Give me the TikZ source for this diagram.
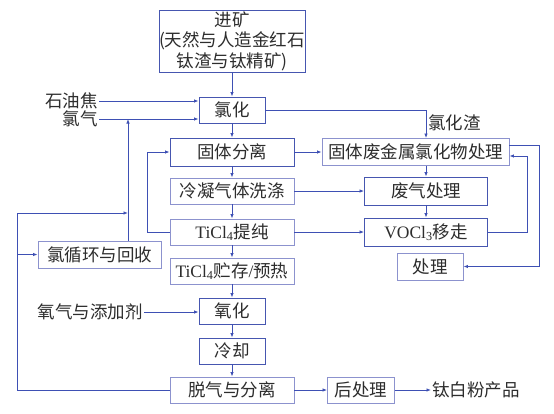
\documentclass[tikz,border=0pt]{standalone}
\usepackage{fontspec}
\setmainfont{Liberation Serif}
\newfontfamily\cjk{Noto Sans CJK SC}
\usetikzlibrary{arrows.meta}
\definecolor{lineblue}{RGB}{62,80,180}
\definecolor{boxdark}{RGB}{70,86,176}
\definecolor{boxlight}{RGB}{140,146,206}
\definecolor{txt}{RGB}{45,45,45}
\begin{document}
\begin{tikzpicture}[x=1pt, y=-1pt,
  every node/.style={font=\cjk\fontsize{17.5}{20.5}\selectfont, text=txt, inner sep=1pt},
  darkbox/.style={draw=boxdark, line width=0.9pt, fill=white, align=center, inner sep=0pt},
  lightbox/.style={draw=boxlight, line width=0.9pt, fill=white, align=center, inner sep=0pt},
  flow/.style={draw=lineblue, line width=0.8pt, -{Latex[length=4.5pt,width=3.5pt]}},
  line/.style={draw=lineblue, line width=0.8pt}]
\fill[white] (0,0) rectangle (554,413);
\useasboundingbox (0,0) rectangle (554,413);
% central column
\node[darkbox, minimum width=146pt, minimum height=62pt] (jin) at (232,41) {进矿\\(天然与人造金红石\\钛渣与钛精矿)};
\node[darkbox, minimum width=66pt, minimum height=26pt] (lh) at (232,110) {氯化};
\node[darkbox, minimum width=124pt, minimum height=28pt] (gtfl) at (232,152) {固体分离};
\node[lightbox, minimum width=124pt, minimum height=26pt] (lnxd) at (232,191) {冷凝气体洗涤};
\node[lightbox, minimum width=124pt, minimum height=26pt] (tc) at (232,232) {{\rmfamily TiCl\textsubscript{4}}提纯};
\node[lightbox, minimum width=124pt, minimum height=26pt] (zc) at (232,271) {{\rmfamily TiCl\textsubscript{4}}贮存{\rmfamily /}预热};
\node[darkbox, minimum width=66pt, minimum height=26pt] (yh) at (232,311) {氧化};
\node[darkbox, minimum width=66pt, minimum height=26pt] (lq) at (232,351) {冷却};
\node[lightbox, minimum width=124pt, minimum height=26pt] (tq) at (232,390) {脱气与分离};
\node[lightbox, minimum width=67pt, minimum height=26pt] (hcl) at (361,390) {后处理};
\node[anchor=west] (cp) at (431,390) {钛白粉产品};
% right column
\node[lightbox, minimum width=187pt, minimum height=27pt] (gf) at (415.5,152) {固体废金属氯化物处理};
\node[darkbox, minimum width=123pt, minimum height=28pt] (fq) at (426,191) {废气处理};
\node[darkbox, minimum width=123pt, minimum height=28pt] (vo) at (426,232) {{\rmfamily VOCl\textsubscript{3}}移走};
\node[lightbox, minimum width=66pt, minimum height=27pt] (cl) at (430,266.5) {处理};
% left side
\node[lightbox, minimum width=123pt, minimum height=27pt] (xh) at (99.5,254.5) {氯循环与回收};
\node[anchor=east] (syj) at (99,101) {石油焦};
\node[anchor=east] (lqi) at (99,119) {氯气};
\node[anchor=east] (yq) at (144,312) {氧气与添加剂};
\node[anchor=west] (lhz) at (427,123) {氯化渣};
\coordinate (up) at (128,119);
\coordinate (lp) at (17,213);
% main flow
\draw[flow] (jin) -- (lh);
\draw[flow] (lh) -- (gtfl);
\draw[flow] (gtfl) -- (lnxd);
\draw[flow] (lnxd) -- (tc);
\draw[flow] (tc) -- (zc);
\draw[flow] (zc) -- (yh);
\draw[flow] (yh) -- (lq);
\draw[flow] (lq) -- (tq);
\draw[flow] (tq) -- (hcl);
\draw[flow] (hcl) -- (cp);
\draw[flow] (syj.east) -- (syj.east -| lh.west);
\draw[flow] (lqi.east) -- (lqi.east -| lh.west);
\draw[flow] (yq.east) -- (yq.east -| yh.west);
% by-products
\draw[flow] (lh.east) -| (fq.north |- gf.north);
\draw[flow] (gtfl.east) -- (gf.west);
\draw[flow] (fq.north |- gf.south) -- (fq.north);
\draw[flow] (lnxd.east) -- (fq.west);
\draw[flow] (fq) -- (vo);
\draw[flow] (tc.east) -- (vo.west);
\draw[flow] (vo.east) -- ++(39,0) |- ([yshift=-4pt]gf.east);
\draw[flow] ([yshift=7pt]gf.east) -- ++(30,0) |- (cl.east);
\draw[flow] (tc.west) -- ++(-22,0) |- (gtfl.west);
% chlorine loop
\draw[flow] (tq.west) -| (lp) -- (lp -| up);
\draw[flow] (lp |- xh.west) -- (xh.west);
\draw[flow] (up |- xh.north) -- (up);
\end{tikzpicture}
\end{document}
